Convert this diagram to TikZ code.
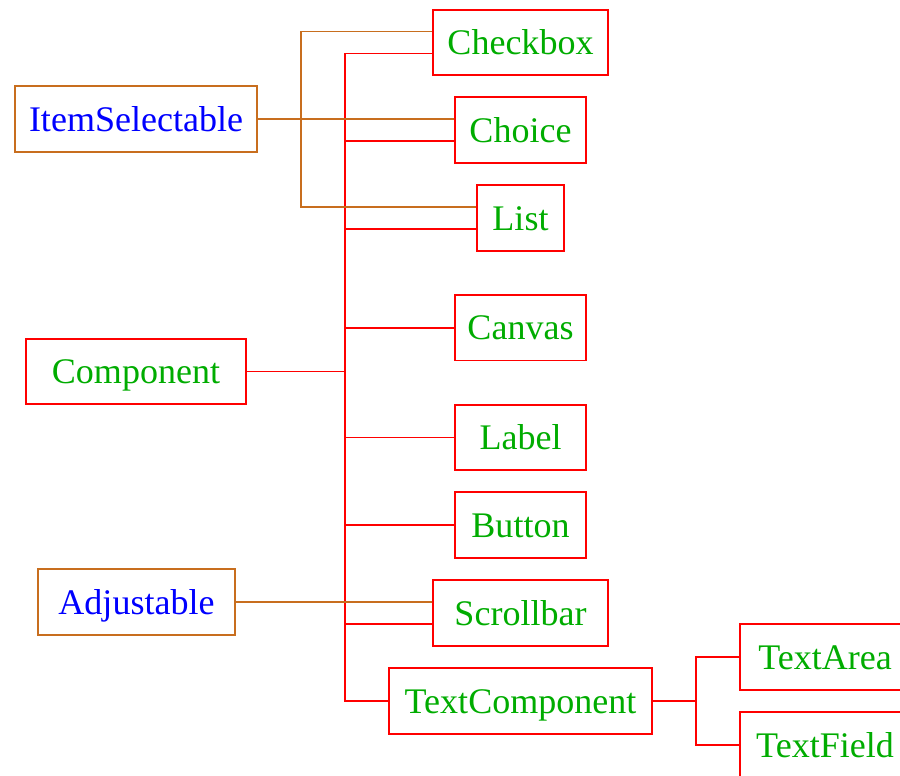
\documentclass[tikz,border=0pt]{standalone}
\usepackage{fontspec}
\setmainfont{Liberation Serif}
\usepackage{tikz}
\usetikzlibrary{positioning}

\definecolor{ibrown}{RGB}{200,110,30}
\definecolor{cgreen}{RGB}{0,172,0}

\begin{document}
\begin{tikzpicture}[x=0.02cm,y=-0.02cm,
    box/.style={draw,rectangle,line width=1pt,minimum height=1.31cm,inner sep=0pt,
                text height=0.6cm,text depth=0.12cm,
                font=\fontsize{20.5}{24}\selectfont},
    iface/.style={box,draw=ibrown,text=blue},
    klass/.style={box,draw=red,text=cgreen},
    isa/.style={draw=red,line width=1pt},
    impl/.style={draw=ibrown,line width=1pt}]

  \useasboundingbox (0,0) rectangle (900,775);
  \clip (0,0) rectangle (900,775);

  \node[iface, minimum width=4.84cm]  (ItemSelectable) at (136,119)   {ItemSelectable};
  \node[klass, minimum width=4.40cm]  (Component)      at (136,371.5) {Component};
  \node[iface, minimum width=3.94cm]  (Adjustable)     at (136.5,602) {Adjustable};

  \node[klass, minimum width=3.50cm]  (Checkbox)       at (520.5,42.5)  {Checkbox};
  \node[klass, minimum width=2.62cm]  (Choice)         at (520.5,130)   {Choice};
  \node[klass, minimum width=1.74cm]  (List)           at (520.5,218)   {List};
  \node[klass, minimum width=2.62cm]  (Canvas)         at (520.5,327.7) {Canvas};
  \node[klass, minimum width=2.62cm]  (Label)          at (520.5,437.5) {Label};
  \node[klass, minimum width=2.62cm]  (Button)         at (520.5,525)   {Button};
  \node[klass, minimum width=3.50cm]  (Scrollbar)      at (520.5,613)   {Scrollbar};
  \node[klass, minimum width=5.26cm]  (TextComponent)  at (520.5,701)   {TextComponent};

  \node[klass, minimum width=3.40cm]  (TextArea)       at (825,657)     {TextArea};
  \node[klass, minimum width=3.40cm]  (TextField)      at (825,745)     {TextField};

  \coordinate (rbus) at (345,0);
  \coordinate (obus) at (301,0);
  \coordinate (tbus) at (696,0);

  % Component and its subclasses
  \draw[isa] ([yshift=-0.22cm]Checkbox.west) -| (rbus |- TextComponent.west) -- (TextComponent.west);
  \draw[isa] (Component.east) -- (Component.east -| rbus);
  \draw[isa] ([yshift=-0.22cm]Choice.west) -- ([yshift=-0.22cm]Choice.west -| rbus);
  \draw[isa] ([yshift=-0.22cm]List.west) -- ([yshift=-0.22cm]List.west -| rbus);
  \draw[isa] (Canvas.west) -- (Canvas.west -| rbus);
  \draw[isa] (Label.west) -- (Label.west -| rbus);
  \draw[isa] (Button.west) -- (Button.west -| rbus);
  \draw[isa] ([yshift=-0.22cm]Scrollbar.west) -- ([yshift=-0.22cm]Scrollbar.west -| rbus);

  % interfaces
  \draw[impl] ([yshift=0.22cm]Checkbox.west) -| ([yshift=0.22cm]List.west -| obus) -- ([yshift=0.22cm]List.west);
  \draw[impl] (ItemSelectable.east) -- ([yshift=0.22cm]Choice.west);
  \draw[impl] (Adjustable.east) -- ([yshift=0.22cm]Scrollbar.west);

  % TextComponent
  \draw[isa] (TextComponent.east) -- (TextComponent.east -| tbus);
  \draw[isa] (TextArea.west) -| (tbus |- TextField.west) -- (TextField.west);
\end{tikzpicture}
\end{document}
